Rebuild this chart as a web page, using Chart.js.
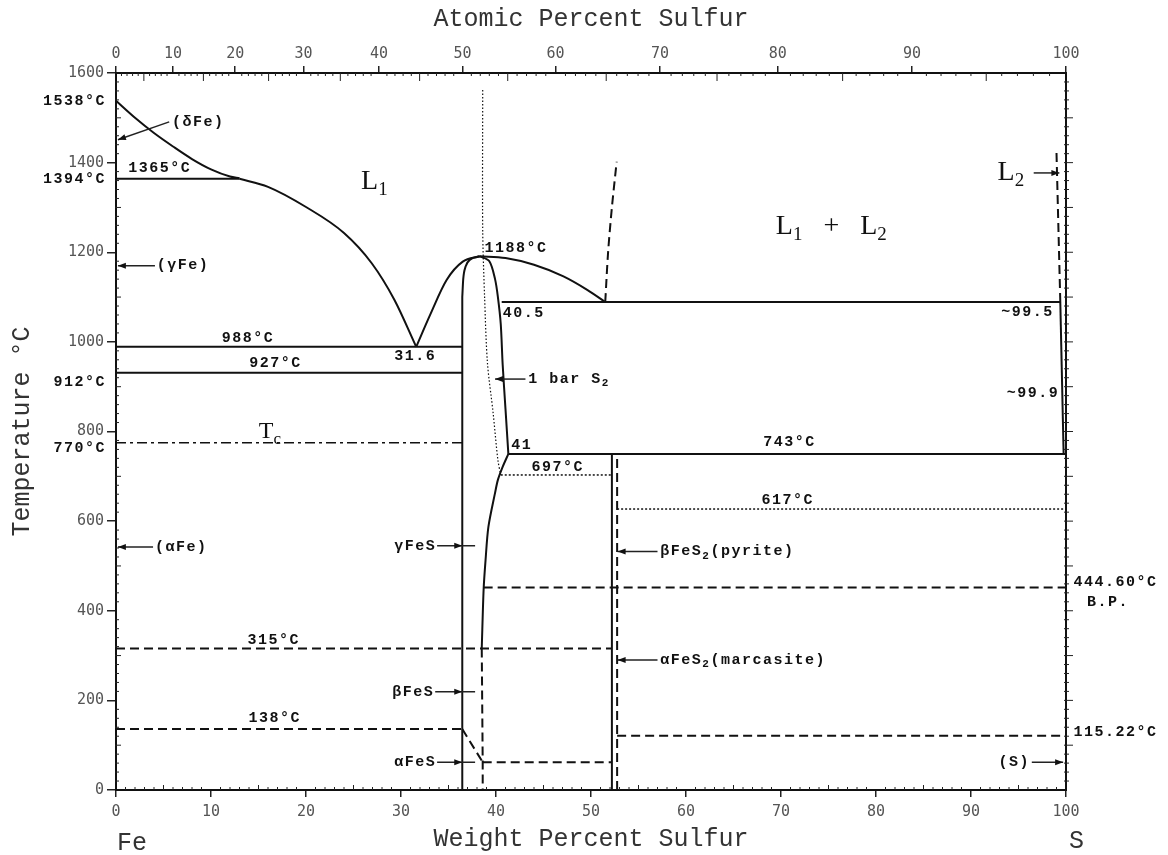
<!DOCTYPE html>
<html>
<head>
<meta charset="utf-8">
<script src="https://cdn.jsdelivr.net/npm/chart.js@4.4.1/dist/chart.umd.min.js"></script>
<style>
  html, body { margin: 0; padding: 0; background: #fff; }
</style>
</head>
<body>
<canvas id="c" width="1168" height="855"></canvas>
<script>
// tick labels
const wtTicks = [0, 10, 20, 30, 40, 50, 60, 70, 80, 90, 100];
const atTicks = [0, 10, 20, 30, 40, 50, 60, 70, 80, 90, 100];
const tempTicks = [0, 200, 400, 600, 800, 1000, 1200, 1400, 1600];

// atomic % -> weight % (S = 32.06, Fe = 55.845)
const M_S = 32.06, M_FE = 55.845;
function atToWt(a) { return a * M_S / (a * M_S + (100 - a) * M_FE) * 100; }

// phase boundaries, [wt% S, °C]
const deltaLiquidus = [[0, 1538], [2, 1500], [4, 1466], [6, 1436], [8, 1408], [10, 1385], [12, 1369], [13, 1365]];
const gammaLiquidus = [[13, 1364], [16, 1346], [20, 1301], [24, 1243], [26.9, 1176], [29.3, 1094], [31.6, 989]];
const peritectic = [[0, 1364], [13, 1364]];
const eutectic = [[0, 989], [36.45, 989]];
const gammaAlpha = [[0, 931], [36.45, 931]];
const curieLine = [[0, 775], [36.45, 775]];
const fesLiqLeft = [[31.6, 989], [33.1, 1062], [34.8, 1138], [36.5, 1179], [38.3, 1191]];
const fesLiqRight = [[38.3, 1191], [41, 1187], [44, 1172], [47.1, 1146], [49.6, 1116], [51.5, 1089]];
const fesLeftBar = [[36.45, 0], [36.45, 1100]];
const fesLeftTop = [[36.45, 1100], [36.55, 1140], [36.8, 1168], [37.3, 1184], [38.3, 1191]];
const fesRightUpper = [[38.3, 1191], [39.3, 1180], [39.9, 1140], [40.2, 1100], [40.5, 1040], [40.7, 950], [41.0, 850], [41.3, 750]];
const fesRightLower = [[41.3, 750], [40.7, 721], [40.2, 692], [39.9, 663], [39.2, 587], [38.9, 513], [38.7, 449], [38.5, 316]];
const monotectic = [[40.6, 1089], [99.4, 1089]];
const sLiquidus = [[99.4, 1089], [99.75, 750]];
const line743 = [[41.3, 750], [100, 750]];
const pyriteSolid = [[52.2, 0], [52.2, 750]];
const pyriteDashed = [[52.75, 0], [52.75, 750]];
const gapLeft = [[51.5, 1089], [51.8, 1200], [52.2, 1300], [52.7, 1402]];
const gapRight = [[99.4, 1089], [99.0, 1422]];
const line315 = [[0, 316], [52.2, 316]];
const line138 = [[0, 136], [36.45, 136]];
const betaAlphaFeS = [[36.45, 136], [38.6, 62]];
const fesRightDashed = [[38.5, 316], [38.6, 62], [38.6, 0]];
const line62 = [[38.6, 62], [52.2, 62]];
const line445 = [[38.7, 452], [100, 452]];
const line115 = [[52.75, 121], [100, 121]];
const sulfurBar = [[38.6, 1562], [38.6, 1250], [38.8, 1100], [39.1, 953], [39.7, 841], [40.2, 736], [40.5, 703]];
const line697 = [[40.5, 703], [52.2, 703]];
const line617 = [[52.75, 627], [100, 627]];

const STYLES = {
  solid:   { width: 2, dash: [] },
  dashed:  { width: 2, dash: [9, 5] },
  dotted:  { width: 1.5, dash: [2, 2] },
  fine:    { width: 1.2, dash: [1.5, 2] },
  dashdot: { width: 1.6, dash: [10, 4, 3, 4] }
};

// [points, style, smoothing: 'm' monotone in x, 't' tension]
const lines = [
  [deltaLiquidus, 'solid', 'm'], [gammaLiquidus, 'solid', 'm'], [peritectic, 'solid'],
  [eutectic, 'solid'], [gammaAlpha, 'solid'], [curieLine, 'dashdot'],
  [fesLiqLeft, 'solid', 'm'], [fesLiqRight, 'solid', 'm'], [fesLeftBar, 'solid'], [fesLeftTop, 'solid', 'm'],
  [fesRightUpper, 'solid', 't'], [fesRightLower, 'solid', 't'], [monotectic, 'solid'],
  [sLiquidus, 'solid'], [line743, 'solid'], [pyriteSolid, 'solid'], [pyriteDashed, 'dashed'],
  [gapLeft, 'dashed', 't'], [gapRight, 'dashed'], [line315, 'dashed'], [line138, 'dashed'],
  [betaAlphaFeS, 'dashed'], [fesRightDashed, 'dashed'], [line62, 'dashed'], [line445, 'dashed'],
  [line115, 'dashed'], [sulfurBar, 'fine', 't'], [line697, 'dotted'], [line617, 'dotted']
];

const datasets = lines.map(function (l) {
  const st = STYLES[l[1]];
  return {
    data: l[0].map(p => ({ x: p[0], y: p[1] })),
    showLine: true,
    pointRadius: 0,
    borderColor: '#111',
    borderWidth: st.width,
    borderDash: st.dash,
    cubicInterpolationMode: l[2] === 'm' ? 'monotone' : 'default',
    tension: l[2] === 't' ? 0.3 : 0,
    clip: false
  };
});

// text labels: [text, wt%, °C, align, style]
const notes = [
  ['1538°C', -1.05, 1536, 'right', 'lab'],
  ['1394°C', -1.05, 1362, 'right', 'lab'],
  ['912°C', -1.05, 911, 'right', 'lab'],
  ['770°C', -1.05, 763, 'right', 'lab'],
  ['(δFe)', 5.9, 1491, 'left', 'lab'],
  ['1365°C', 4.6, 1388, 'center', 'lab'],
  ['L_1', 27.2, 1357, 'center', 'big'],
  ['(γFe)', 4.3, 1170, 'left', 'lab'],
  ['1188°C', 38.8, 1210, 'left', 'lab'],
  ['L_1   +   L_2', 75.3, 1257, 'center', 'big'],
  ['L_2', 94.2, 1377, 'center', 'big'],
  ['40.5', 40.7, 1065, 'left', 'lab'],
  ['~99.5', 98.7, 1067, 'right', 'lab'],
  ['988°C', 13.9, 1009, 'center', 'lab'],
  ['31.6', 31.5, 969, 'center', 'lab'],
  ['927°C', 16.8, 953, 'center', 'lab'],
  ['1 bar S_2', 43.4, 917, 'left', 'lab'],
  ['~99.9', 99.3, 886, 'right', 'lab'],
  ['T_c', 16.2, 799, 'center', 'mid'],
  ['41', 41.6, 770, 'left', 'lab'],
  ['743°C', 70.9, 775, 'center', 'lab'],
  ['697°C', 46.5, 721, 'center', 'lab'],
  ['617°C', 70.7, 647, 'center', 'lab'],
  ['(αFe)', 4.1, 542, 'left', 'lab'],
  ['γFeS', 33.7, 545, 'right', 'lab'],
  ['βFeS_2(pyrite)', 57.3, 532, 'left', 'lab'],
  ['444.60°C', 100.8, 464, 'left', 'lab'],
  ['B.P.', 102.2, 420, 'left', 'lab'],
  ['315°C', 16.6, 335, 'center', 'lab'],
  ['αFeS_2(marcasite)', 57.3, 290, 'left', 'lab'],
  ['βFeS', 33.5, 219, 'right', 'lab'],
  ['138°C', 16.7, 161, 'center', 'lab'],
  ['115.22°C', 100.8, 129, 'left', 'lab'],
  ['αFeS', 33.7, 62, 'right', 'lab'],
  ['(S)', 96.2, 62, 'right', 'lab']
];

// arrows: [from wt%, from °C, to wt%, to °C, head at wt% (optional)]
const arrows = [
  [5.6, 1491, 0.2, 1451],
  [4.1, 1170, 0.2, 1170],
  [96.6, 1377, 99.3, 1377],
  [43.1, 917, 39.9, 917],
  [3.9, 542, 0.2, 542],
  [33.8, 545, 37.8, 545, 36.45],
  [57.0, 532, 52.8, 532],
  [57.0, 290, 52.8, 290],
  [33.6, 219, 37.8, 219, 36.45],
  [33.8, 62, 37.8, 62, 36.45],
  [96.4, 62, 99.7, 62]
];

const FONTS = {
  lab: { font: 'bold 15px "Liberation Mono"', sub: 'bold 11px "Liberation Mono"', spacing: '1.5px' },
  big: { font: '28px "Liberation Serif"', sub: '19px "Liberation Serif"', spacing: '0px' },
  mid: { font: '24px "Liberation Serif"', sub: '17px "Liberation Serif"', spacing: '0px' }
};

function drawRich(ctx, str, x, y, align, style) {
  const f = FONTS[style];
  const segs = [];
  for (let i = 0; i < str.length; i++) {
    if (str[i] === '_' && i + 1 < str.length) {
      segs.push({ t: str[i + 1], sub: true }); i++;
    } else if (segs.length && !segs[segs.length - 1].sub) {
      segs[segs.length - 1].t += str[i];
    } else {
      segs.push({ t: str[i], sub: false });
    }
  }
  ctx.letterSpacing = f.spacing;
  let total = 0;
  segs.forEach(function (s) {
    ctx.font = s.sub ? f.sub : f.font;
    s.w = ctx.measureText(s.t).width;
    total += s.w;
  });
  let cx = align === 'left' ? x : align === 'right' ? x - total : x - total / 2;
  const subDrop = parseInt(f.font.match(/(\d+)px/)[1], 10) * 0.3;
  ctx.textAlign = 'left';
  ctx.textBaseline = 'middle';
  segs.forEach(function (s) {
    ctx.font = s.sub ? f.sub : f.font;
    ctx.fillText(s.t, cx, s.sub ? y + subDrop : y);
    cx += s.w;
  });
  ctx.letterSpacing = '0px';
}

const decorPlugin = {
  id: 'decor',
  afterDraw: function (chart) {
    const ctx = chart.ctx;
    const xs = chart.scales.x, ys = chart.scales.y;
    const ca = chart.chartArea;
    ctx.save();
    ctx.strokeStyle = '#222';
    ctx.fillStyle = '#111';
    ctx.lineWidth = 1;
    ctx.setLineDash([]);

    // minor ticks
    ctx.beginPath();
    for (let w = 1; w < 100; w++) {
      if (w % 10 === 0) continue;
      const px = xs.getPixelForValue(w);
      ctx.moveTo(px, ca.bottom);
      ctx.lineTo(px, ca.bottom - (w % 5 === 0 ? 5 : 3));
    }
    for (let a = 1; a < 100; a++) {
      if (a % 10 === 0) continue;
      const px = xs.getPixelForValue(atToWt(a));
      ctx.moveTo(px, ca.top);
      ctx.lineTo(px, ca.top + (a % 5 === 0 ? 8 : 3));
    }
    for (let t = 20; t < 1600; t += 20) {
      const py = ys.getPixelForValue(t);
      if (t % 200 !== 0) {
        ctx.moveTo(ca.left - 1, py);
        ctx.lineTo(ca.left + (t % 100 === 0 ? 5 : 3), py);
      }
      ctx.moveTo(ca.right - 2, py);
      ctx.lineTo(ca.right + (t % 100 === 0 ? 7 : 3), py);
    }
    ctx.stroke();

    // arrows
    ctx.lineWidth = 1.5;
    arrows.forEach(function (a) {
      const x1 = xs.getPixelForValue(a[0]), y1 = ys.getPixelForValue(a[1]);
      const x2 = xs.getPixelForValue(a[2]), y2 = ys.getPixelForValue(a[3]);
      ctx.beginPath();
      ctx.moveTo(x1, y1);
      ctx.lineTo(x2, y2);
      ctx.stroke();
      const hx = a[4] !== undefined ? xs.getPixelForValue(a[4]) : x2;
      const hy = y2;
      const ang = Math.atan2(y2 - y1, x2 - x1);
      ctx.beginPath();
      ctx.moveTo(hx, hy);
      ctx.lineTo(hx - 8 * Math.cos(ang) + 3 * Math.sin(ang), hy - 8 * Math.sin(ang) - 3 * Math.cos(ang));
      ctx.lineTo(hx - 8 * Math.cos(ang) - 3 * Math.sin(ang), hy - 8 * Math.sin(ang) + 3 * Math.cos(ang));
      ctx.closePath();
      ctx.fill();
    });

    // labels
    ctx.fillStyle = '#111';
    notes.forEach(function (n) {
      drawRich(ctx, n[0], xs.getPixelForValue(n[1]), ys.getPixelForValue(n[2]), n[3], n[4]);
    });

    // axis titles
    ctx.fillStyle = '#333';
    ctx.font = '25px "Liberation Mono"';
    ctx.textAlign = 'center';
    ctx.textBaseline = 'middle';
    const midX = (ca.left + ca.right) / 2;
    ctx.fillText('Atomic Percent Sulfur', midX, 19);
    ctx.fillText('Weight Percent Sulfur', midX, ca.bottom + 49);
    ctx.textAlign = 'left';
    ctx.fillText('Fe', ca.left + 1, ca.bottom + 53);
    ctx.fillText('S', ca.right + 3, ca.bottom + 51);
    ctx.translate(22, (ca.top + ca.bottom) / 2);
    ctx.rotate(-Math.PI / 2);
    ctx.textAlign = 'center';
    ctx.fillText('Temperature °C', 0, 0);
    ctx.restore();
  }
};

const tickFont = { family: 'DejaVu Sans Mono', size: 15 };
const axisGrid = { drawOnChartArea: false, drawTicks: true, tickLength: 7, color: '#222', lineWidth: 1.5 };
const axisBorder = { display: true, color: '#111', width: 2 };

new Chart(document.getElementById('c').getContext('2d'), {
  type: 'scatter',
  data: { datasets: datasets },
  options: {
    responsive: false,
    animation: false,
    events: [],
    layout: { padding: 0 },
    plugins: { legend: { display: false }, tooltip: { enabled: false } },
    scales: {
      x: {
        type: 'linear', position: 'bottom', min: 0, max: 100,
        afterBuildTicks: function (s) { s.ticks = wtTicks.map(v => ({ value: v })); },
        ticks: { color: '#555', font: tickFont, padding: 6, maxRotation: 0, autoSkip: false,
                 callback: function (v) { return String(v); } },
        grid: axisGrid, border: axisBorder,
        afterFit: function (s) { s.height = 65; }
      },
      x2: {
        type: 'linear', position: 'top', min: 0, max: 100,
        afterBuildTicks: function (s) { s.ticks = atTicks.map(a => ({ value: atToWt(a) })); },
        ticks: { color: '#555', font: tickFont, padding: 3, maxRotation: 0, autoSkip: false,
                 callback: function (v, i) { return String(atTicks[i]); } },
        grid: axisGrid, border: axisBorder,
        afterFit: function (s) { s.height = 73; }
      },
      y: {
        type: 'linear', position: 'left', min: 0, max: 1600,
        afterBuildTicks: function (s) { s.ticks = tempTicks.map(v => ({ value: v })); },
        ticks: { color: '#555', font: tickFont, padding: 3, autoSkip: false,
                 callback: function (v) { return String(v); } },
        grid: Object.assign({}, axisGrid, { tickLength: 9 }), border: axisBorder,
        afterFit: function (s) { s.width = 116; }
      },
      y2: {
        type: 'linear', position: 'right', min: 0, max: 1600,
        ticks: { display: false },
        grid: { drawOnChartArea: false, drawTicks: false },
        border: axisBorder,
        afterFit: function (s) { s.width = 102; }
      }
    }
  },
  plugins: [decorPlugin]
});
</script>
</body>
</html>
